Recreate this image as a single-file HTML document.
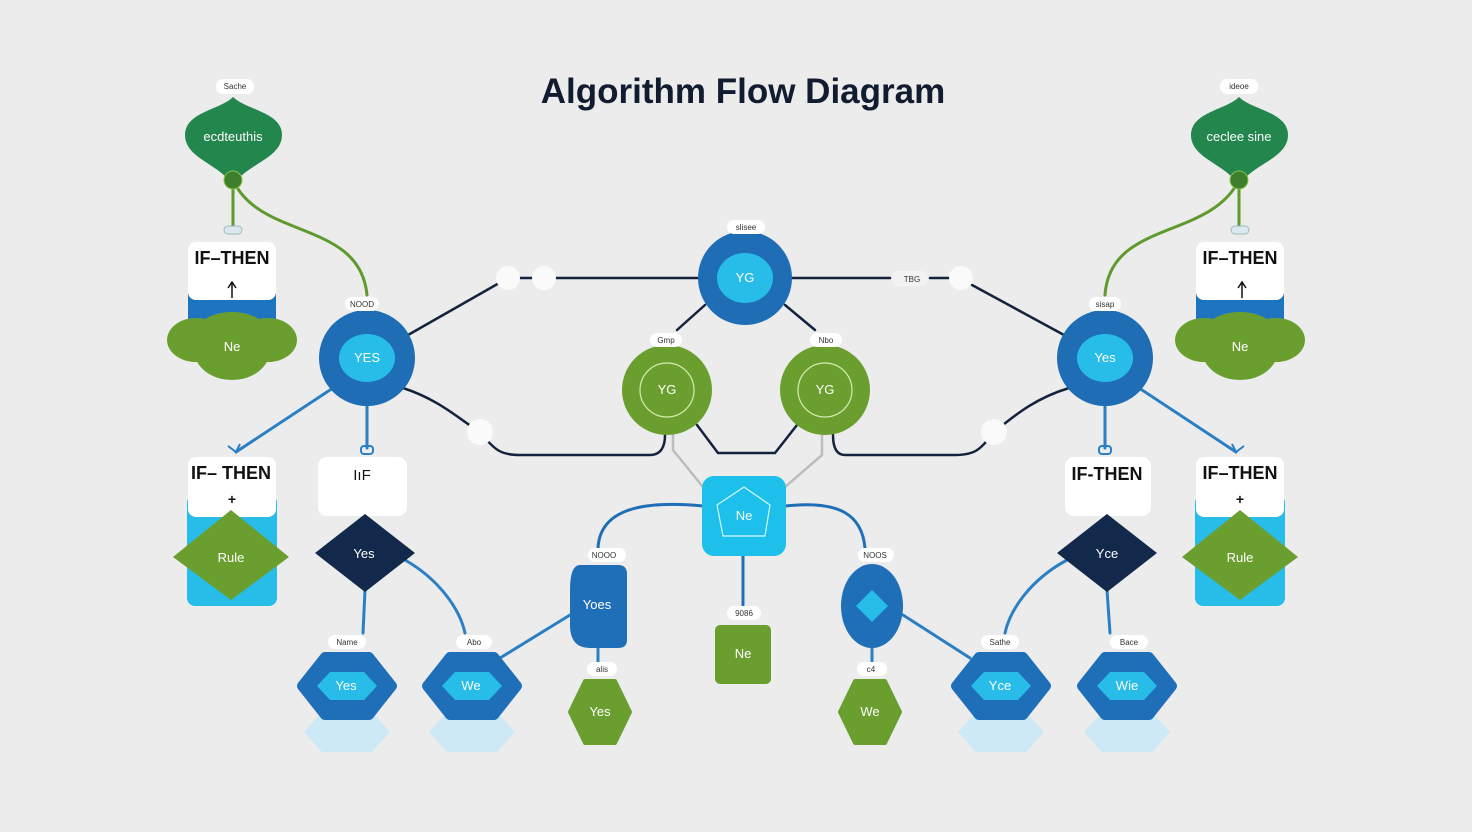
<!DOCTYPE html>
<html><head><meta charset="utf-8"><style>
html,body{margin:0;padding:0;background:#ececec;}
svg{display:block;font-family:"Liberation Sans",sans-serif;}
.lb{font-size:8px;fill:#333;text-anchor:middle}
.w{fill:#fff;text-anchor:middle;font-size:13px}
.k{fill:#111;text-anchor:middle;font-size:18px;font-weight:bold}
</style></head><body>
<svg width="1472" height="832" viewBox="0 0 1472 832">
<rect width="1472" height="832" fill="#ececec"/>
<text x="743" y="103" text-anchor="middle" font-size="35" font-weight="bold" fill="#121c30">Algorithm Flow Diagram</text>

<!-- connectors -->
<g fill="none" stroke-linecap="round">
<path d="M233 180 L233 228" stroke="#5f9a2e" stroke-width="3"/>
<path d="M233 180 C260 240 360 220 367 295" stroke="#5f9a2e" stroke-width="3"/>
<path d="M1239 180 L1239 228" stroke="#5f9a2e" stroke-width="3"/>
<path d="M1239 180 C1210 240 1110 220 1105 295" stroke="#5f9a2e" stroke-width="3"/>
<path d="M408 335 L508 278 M520 278 L532 278 M556 278 L700 278 M790 278 L890 278 M930 278 L950 278 M972 285 L1064 335" stroke="#14233d" stroke-width="2.5"/>
<path d="M677 330 L705 305 M785 305 L815 330" stroke="#14233d" stroke-width="2.5"/>
<path d="M403 388 C440 400 460 420 480 432 C495 450 500 455 520 455 L650 455 C662 455 665 445 665 435" stroke="#14233d" stroke-width="2.5"/>
<path d="M1069 388 C1030 400 1010 420 994 432 C980 450 975 455 955 455 L845 455 C835 455 833 445 833 435" stroke="#14233d" stroke-width="2.5"/>
<path d="M697 425 L718 453 L775 453 L797 425" stroke="#14233d" stroke-width="2.5"/>
<path d="M673 435 L673 450 L703 487 M822 435 L822 455 L785 487" stroke="#bdbdbd" stroke-width="2.5"/>
<path d="M703 506 C640 500 600 510 598 548 M785 506 C840 500 862 515 865 548" stroke="#1f6fb8" stroke-width="3"/>
<path d="M743 555 L743 605" stroke="#1f6fb8" stroke-width="3"/>
<path d="M333 388 L236 452 M367 405 L367 448 M1139 388 L1236 452 M1105 405 L1105 448" stroke="#2b7fc4" stroke-width="3"/>
<path d="M365 590 L363 633 M405 560 C440 580 460 610 465 633 M570 615 L500 658 M598 648 L598 662" stroke="#2b7fc4" stroke-width="3"/>
<path d="M1107 590 L1110 633 M1067 560 C1030 580 1010 610 1005 633 M903 615 L970 658 M872 648 L872 662" stroke="#2b7fc4" stroke-width="3"/>
</g>

<!-- top drop shapes -->
<g>
<path d="M233 97 C220 110 185 112 185 135 C185 160 225 165 233 188 C241 165 282 160 282 135 C282 112 246 110 233 97Z" fill="#22864d"/>
<circle cx="233" cy="180" r="9" fill="#3d7f2a" stroke="#8bc34a" stroke-width="1"/>
<text x="233" y="141" class="w" font-size="12">ecdteuthis</text>
<rect x="216" y="79" width="38" height="15" rx="7" fill="#fff"/><text x="235" y="89" class="lb">Sache</text>
<rect x="224" y="226" width="18" height="8" rx="4" fill="#dde8ee" stroke="#9bb" stroke-width="1"/>

<path d="M1239 97 C1226 110 1191 112 1191 135 C1191 160 1231 165 1239 188 C1247 165 1288 160 1288 135 C1288 112 1252 110 1239 97Z" fill="#22864d"/>
<circle cx="1239" cy="180" r="9" fill="#3d7f2a" stroke="#8bc34a" stroke-width="1"/>
<text x="1239" y="141" class="w" font-size="12">ceclee sine</text>
<rect x="1220" y="79" width="38" height="15" rx="7" fill="#fff"/><text x="1239" y="89" class="lb">ideoe</text>
<rect x="1231" y="226" width="18" height="8" rx="4" fill="#dde8ee" stroke="#9bb" stroke-width="1"/>
</g>

<!-- IF-THEN cloud cards -->
<g>
<rect x="188" y="285" width="88" height="45" rx="6" fill="#1f74c0"/>
<g fill="#6a9f2f"><ellipse cx="196" cy="340" rx="29" ry="22"/><ellipse cx="268" cy="340" rx="29" ry="22"/><ellipse cx="232" cy="350" rx="38" ry="30"/><ellipse cx="232" cy="328" rx="32" ry="16"/></g>
<rect x="188" y="242" width="88" height="58" rx="8" fill="#fff"/>
<text x="232" y="264" class="k">IF–THEN</text>
<path d="M232 298 L232 283 M228 288 L232 282 L236 288" stroke="#111" stroke-width="1.5" fill="none"/>
<text x="232" y="351" class="w" font-size="14">Ne</text>

<rect x="1196" y="285" width="88" height="45" rx="6" fill="#1f74c0"/>
<g fill="#6a9f2f"><ellipse cx="1204" cy="340" rx="29" ry="22"/><ellipse cx="1276" cy="340" rx="29" ry="22"/><ellipse cx="1240" cy="350" rx="38" ry="30"/><ellipse cx="1240" cy="328" rx="32" ry="16"/></g>
<rect x="1196" y="242" width="88" height="58" rx="8" fill="#fff"/>
<text x="1240" y="264" class="k">IF–THEN</text>
<path d="M1242 298 L1242 283 M1238 288 L1242 282 L1246 288" stroke="#111" stroke-width="1.5" fill="none"/>
<text x="1240" y="351" class="w" font-size="14">Ne</text>
</g>

<!-- big blue circles -->
<g>
<circle cx="367" cy="358" r="48" fill="#1e6db5"/><ellipse cx="367" cy="358" rx="28" ry="24" fill="#27bde8"/>
<text x="367" y="362" class="w" font-size="11">YES</text>
<rect x="345" y="297" width="34" height="14" rx="7" fill="#fff"/><text x="362" y="307" class="lb">NOOD</text>

<circle cx="1105" cy="358" r="48" fill="#1e6db5"/><ellipse cx="1105" cy="358" rx="28" ry="24" fill="#27bde8"/>
<text x="1105" y="362" class="w" font-size="11">Yes</text>
<rect x="1089" y="297" width="32" height="14" rx="7" fill="#fff"/><text x="1105" y="307" class="lb">sisap</text>

<circle cx="745" cy="278" r="47" fill="#1e6db5"/><ellipse cx="745" cy="278" rx="28" ry="25" fill="#27bde8"/>
<text x="745" y="282" class="w" font-size="11">YG</text>
<rect x="727" y="220" width="38" height="14" rx="7" fill="#fff"/><text x="746" y="230" class="lb">slisee</text>
</g>
<g>
<circle cx="508" cy="278" r="12" fill="#fafafa"/><circle cx="544" cy="278" r="12" fill="#fafafa"/>
<rect x="892" y="271" width="36" height="15" rx="7" fill="#f3f3f3"/><text x="912" y="282" class="lb" font-size="10" fill="#888">TBG</text>
<circle cx="961" cy="278" r="12" fill="#fafafa"/>
<circle cx="480" cy="432" r="13" fill="#fafafa"/><circle cx="994" cy="432" r="13" fill="#fafafa"/>
</g>

<!-- green circles -->
<g>
<circle cx="667" cy="390" r="45" fill="#6a9f2f"/><circle cx="667" cy="390" r="27" fill="none" stroke="#d7eab0" stroke-width="1.2"/>
<text x="667" y="394" class="w" font-size="11">YG</text>
<rect x="650" y="333" width="32" height="14" rx="7" fill="#fff"/><text x="666" y="343" class="lb">Gmp</text>
<circle cx="825" cy="390" r="45" fill="#6a9f2f"/><circle cx="825" cy="390" r="27" fill="none" stroke="#d7eab0" stroke-width="1.2"/>
<text x="825" y="394" class="w" font-size="11">YG</text>
<rect x="810" y="333" width="32" height="14" rx="7" fill="#fff"/><text x="826" y="343" class="lb">Nbo</text>
</g>

<!-- center cyan rect -->
<rect x="702" y="476" width="84" height="80" rx="12" fill="#1cc0ea"/>
<path d="M744 487 L770 505 L765 536 L723 536 L717 505Z" fill="none" stroke="#d9f5ff" stroke-width="1.2" stroke-linejoin="round"/>
<text x="744" y="520" class="w" font-size="13">Ne</text>

<!-- middle lower shapes -->
<g>
<rect x="588" y="548" width="38" height="14" rx="7" fill="#fff"/><text x="604" y="558" class="lb">NOOO</text>
<path d="M580 565 L618 565 Q627 565 627 574 L627 640 Q627 648 618 648 L590 648 Q570 648 570 625 L570 590 Q570 565 580 565Z" fill="#1f6fb8"/>
<text x="597" y="609" class="w" font-size="12">Yoes</text>
<rect x="858" y="548" width="36" height="14" rx="7" fill="#fff"/><text x="875" y="558" class="lb">NOOS</text>
<ellipse cx="872" cy="606" rx="31" ry="42" fill="#1f6fb8"/>
<path d="M872 590 L888 606 L872 622 L856 606Z" fill="#27bde8"/>
<rect x="727" y="606" width="34" height="14" rx="7" fill="#fff"/><text x="744" y="616" class="lb">9086</text>
<rect x="715" y="625" width="56" height="59" rx="5" fill="#6a9f2f"/>
<text x="743" y="658" class="w" font-size="13">Ne</text>
<rect x="587" y="662" width="30" height="14" rx="7" fill="#fff"/><text x="602" y="672" class="lb" fill="#4aa">alis</text>
<path d="M585 681 L615 681 L630 712 L615 743 L585 743 L570 712Z" fill="#6a9f2f" stroke="#6a9f2f" stroke-width="4" stroke-linejoin="round"/>
<text x="600" y="716" class="w" font-size="12">Yes</text>
<rect x="857" y="662" width="30" height="14" rx="7" fill="#fff"/><text x="871" y="672" class="lb" fill="#4aa">c4</text>
<path d="M855 681 L885 681 L900 712 L885 743 L855 743 L840 712Z" fill="#6a9f2f" stroke="#6a9f2f" stroke-width="4" stroke-linejoin="round"/>
<text x="870" y="716" class="w" font-size="12">We</text>
</g>

<!-- left bottom cards -->
<g>
<path d="M228 446 L236 452 L240 444" stroke="#2b7fc4" stroke-width="2" fill="none"/>
<rect x="187" y="495" width="90" height="111" rx="8" fill="#27bde8"/>
<rect x="188" y="457" width="88" height="60" rx="8" fill="#fff"/>
<text x="231" y="479" class="k">IF– THEN</text>
<text x="232" y="504" text-anchor="middle" font-size="14" font-weight="bold" fill="#111">+</text>
<path d="M231 510 L289 557 L231 600 L173 557Z" fill="#6a9f2f"/>
<text x="231" y="562" class="w" font-size="13">Rule</text>

<rect x="361" y="446" width="12" height="8" rx="3" fill="none" stroke="#2b7fc4" stroke-width="2"/>
<rect x="318" y="457" width="89" height="59" rx="9" fill="#fff"/>
<text x="362" y="480" text-anchor="middle" font-size="15" fill="#111">IıF</text>
<path d="M365 514 L415 553 L365 592 L315 553Z" fill="#13294b"/>
<text x="364" y="558" class="w" font-size="12">Yes</text>
</g>
<!-- right bottom cards -->
<g>
<path d="M1232 444 L1236 452 L1244 446" stroke="#2b7fc4" stroke-width="2" fill="none"/>
<rect x="1195" y="495" width="90" height="111" rx="8" fill="#27bde8"/>
<rect x="1196" y="457" width="88" height="60" rx="8" fill="#fff"/>
<text x="1240" y="479" class="k">IF–THEN</text>
<text x="1240" y="504" text-anchor="middle" font-size="14" font-weight="bold" fill="#111">+</text>
<path d="M1240 510 L1298 557 L1240 600 L1182 557Z" fill="#6a9f2f"/>
<text x="1240" y="562" class="w" font-size="13">Rule</text>

<rect x="1099" y="446" width="12" height="8" rx="3" fill="none" stroke="#2b7fc4" stroke-width="2"/>
<rect x="1065" y="457" width="86" height="59" rx="9" fill="#fff"/>
<text x="1107" y="480" class="k">IF-THEN</text>
<path d="M1107 514 L1157 553 L1107 592 L1057 553Z" fill="#13294b"/>
<text x="1107" y="558" class="w" font-size="12">Yce</text>
</g>

<!-- hexagons -->
<g>
<g fill="#cde9f6">
<path d="M322 712 L372 712 L390 732 L372 752 L322 752 L304 732Z"/>
<path d="M447 712 L497 712 L515 732 L497 752 L447 752 L429 732Z"/>
<path d="M976 712 L1026 712 L1044 732 L1026 752 L976 752 L958 732Z"/>
<path d="M1102 712 L1152 712 L1170 732 L1152 752 L1102 752 L1084 732Z"/>
</g>
<g fill="#1f6fb8" stroke="#1f6fb8" stroke-width="10" stroke-linejoin="round">
<path d="M325 657 L369 657 L392 686 L369 715 L325 715 L302 686Z"/>
<path d="M450 657 L494 657 L517 686 L494 715 L450 715 L427 686Z"/>
<path d="M979 657 L1023 657 L1046 686 L1023 715 L979 715 L956 686Z"/>
<path d="M1105 657 L1149 657 L1172 686 L1149 715 L1105 715 L1082 686Z"/>
</g>
<g fill="#27bde8">
<path d="M330 672 L364 672 L377 686 L364 700 L330 700 L317 686Z"/>
<path d="M455 672 L489 672 L502 686 L489 700 L455 700 L442 686Z"/>
<path d="M984 672 L1018 672 L1031 686 L1018 700 L984 700 L971 686Z"/>
<path d="M1110 672 L1144 672 L1157 686 L1144 700 L1110 700 L1097 686Z"/>
</g>
<text x="346" y="690" class="w" font-size="11">Yes</text>
<text x="471" y="690" class="w" font-size="11">We</text>
<text x="1000" y="690" class="w" font-size="11">Yce</text>
<text x="1127" y="690" class="w" font-size="11">Wie</text>
<rect x="328" y="635" width="38" height="14" rx="7" fill="#fff"/><text x="347" y="645" class="lb">Name</text>
<rect x="456" y="635" width="36" height="14" rx="7" fill="#fff"/><text x="474" y="645" class="lb">Abo</text>
<rect x="981" y="635" width="38" height="14" rx="7" fill="#fff"/><text x="1000" y="645" class="lb">Sathe</text>
<rect x="1110" y="635" width="38" height="14" rx="7" fill="#fff"/><text x="1129" y="645" class="lb">Bace</text>
</g>
</svg>
</body></html>
